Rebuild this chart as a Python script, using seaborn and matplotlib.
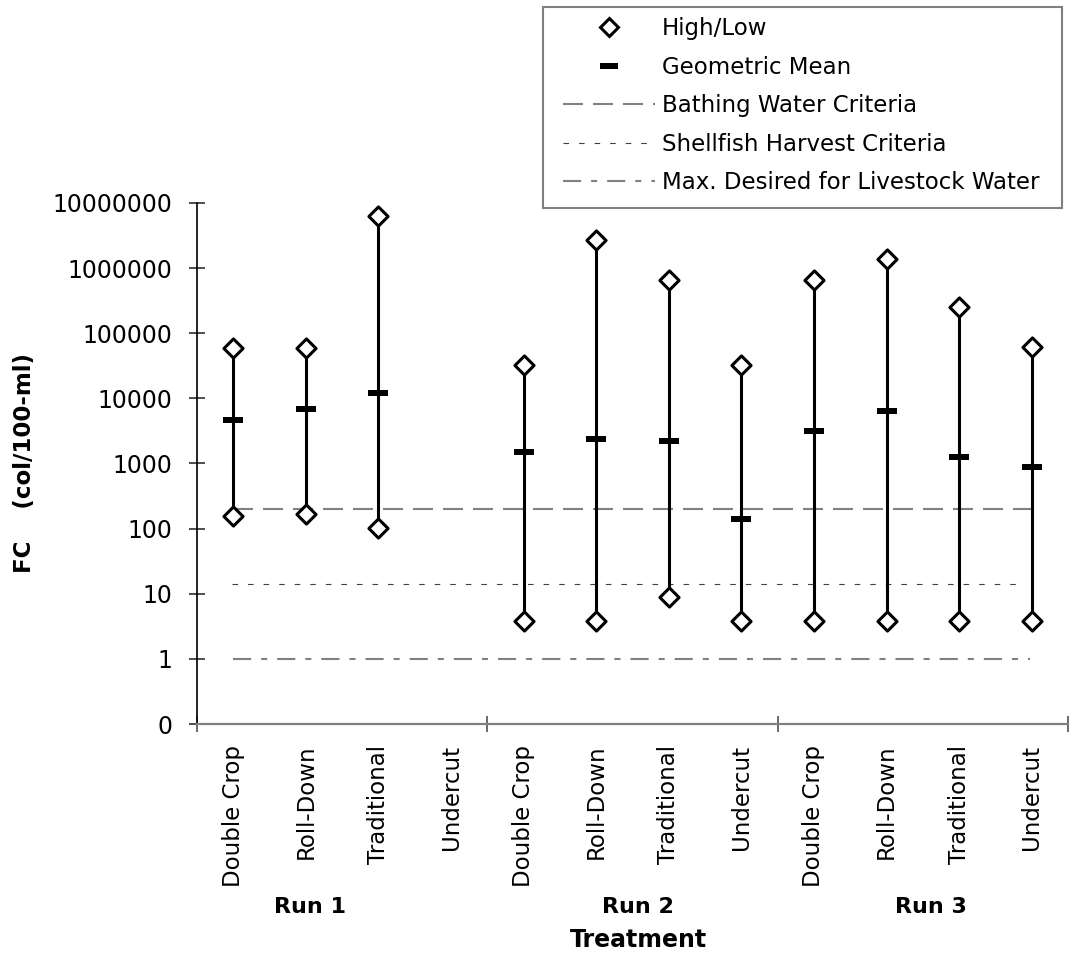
import numpy as np
import pandas as pd
import matplotlib
matplotlib.use("Agg")
import matplotlib.pyplot as plt
from matplotlib.lines import Line2D
from matplotlib.patches import Rectangle
from matplotlib.ticker import NullLocator
import seaborn as sns

# ---------------- data ----------------
runs = ["Run 1", "Run 2", "Run 3"]
treatments = ["Double Crop", "Roll-Down", "Traditional", "Undercut"]
# per run, per treatment (NaN = no data)
high_vals = [60000, 60000, 6300000, np.nan,
             32000, 2700000, 650000, 32000,
             650000, 1400000, 250000, 62000]
low_vals = [155, 170, 103, np.nan,
            3.8, 3.8, 9.0, 3.8,
            3.8, 3.8, 3.8, 3.8]
mean_vals = [4700, 6800, 12200, np.nan,
             1500, 2400, 2200, 140,
             3200, 6300, 1270, 870]
bathing = 200
shellfish = 14
livestock = 1
y_ticks = [0.1, 1, 10, 100, 1000, 10000, 100000, 1000000, 10000000]
y_tick_labels = ["0", "1", "10", "100", "1000", "10000", "100000",
                 "1000000", "10000000"]

cat_labels = treatments * len(runs)
pos = np.arange(len(cat_labels))
df = pd.DataFrame({"x": pos, "high": high_vals, "low": low_vals,
                   "mean": mean_vals})
hl = pd.concat([df[["x", "high"]].rename(columns={"high": "v"}),
                df[["x", "low"]].rename(columns={"low": "v"})]).dropna()

# ---------------- style ----------------
sns.set_style("white")
plt.rcParams["font.family"] = ["DejaVu Sans"]
plt.rcParams["font.size"] = 16
plt.rcParams["text.color"] = "black"
plt.rcParams["axes.labelcolor"] = "black"
plt.rcParams["xtick.color"] = "black"
plt.rcParams["ytick.color"] = "black"

FS = 16.5
fig = plt.figure(figsize=(10.89, 9.55), dpi=100)
ax = fig.add_axes([197 / 1089, 1 - 724 / 955, (1068 - 197) / 1089,
                   (724 - 203) / 955])

gray = "#808080"
bath_ls = (0, (9.6, 4.8))
shell_ls = (0, (5, 9))
live_ls = (0, (8.7, 4.8, 2.9, 4.8))
# reference lines
x0, x1 = pos[0], pos[-1]
ax.hlines(bathing, x0, x1, colors=gray, lw=1.5, linestyles=bath_ls, zorder=1)
ax.hlines(shellfish, x0 - 0.02, x1 - 0.1, colors="#404040", lw=0.8,
          linestyles=shell_ls, zorder=1)
ax.hlines(livestock, x0, x1 - 0.02, colors=gray, lw=1.5, linestyles=live_ls,
          zorder=1)

# range lines
d = df.dropna()
ax.vlines(d["x"], d["low"], d["high"], colors="black", lw=2.2, zorder=2)

# high/low diamonds
sns.scatterplot(data=hl, x="x", y="v", ax=ax, marker="D", s=95,
                facecolor="white", edgecolor="black", linewidth=2.2,
                zorder=4, legend=False)
# geometric mean bars
bar = [(-1, -0.28), (1, -0.28), (1, 0.28), (-1, 0.28), (-1, -0.28)]
sns.scatterplot(data=d, x="x", y="mean", ax=ax, marker=bar, s=190,
                color="black", linewidth=0, zorder=5, legend=False)

# axes
ax.set_yscale("log")
ax.set_ylim(0.1, 1e7)
ax.set_xlim(-0.5, len(pos) - 0.5)
ax.set_yticks(y_ticks)
ax.set_yticklabels(y_tick_labels)
ax.yaxis.set_minor_locator(NullLocator())
ax.tick_params(axis="y", which="major", direction="inout", length=11,
               width=1.2, color="#303030", labelcolor="black", pad=12,
               labelsize=17, left=True)
ax.set_xticks([-0.5, 3.5, 7.5, 11.5])
ax.set_xticklabels([])
ax.set_xticks(pos, labels=cat_labels, minor=True)
ax.tick_params(axis="x", which="major", direction="inout", length=11,
               width=1.2, color="#505050", bottom=True)
ax.tick_params(axis="x", which="minor", length=0, pad=15, labelsize=FS,
               labelcolor="black", labelrotation=90)
ax.set_xlabel("")
ax.set_ylabel("")
for s in ["top", "right"]:
    ax.spines[s].set_visible(False)
ax.spines["left"].set_color("black")
ax.spines["left"].set_linewidth(1.2)
ax.spines["bottom"].set_color(gray)
ax.spines["bottom"].set_linewidth(1.6)

# group labels
trans = ax.get_xaxis_transform()
run_x = [1.06, 5.58, 9.61]
for rx, r in zip(run_x, runs):
    ax.text(rx, (724 - 907) / 521, r, transform=trans, ha="center",
            va="center", fontsize=16, fontweight="bold", color="black")
ax.text(5.58, (724 - 940) / 521, "Treatment", transform=trans,
        ha="center", va="center", fontsize=17, fontweight="bold",
        color="black")
fig.text(25 / 1089, 1 - 463 / 955, "FC    (col/100-ml)", rotation=90,
         ha="center", va="center", fontsize=16.5, fontweight="bold",
         color="black")

# legend
handles = [
    Line2D([], [], ls="none", marker="D", ms=9.5, mfc="white", mec="black",
           mew=2.2),
    Line2D([], [], ls="none", marker=bar, ms=13.5, color="black", mew=0),
    Line2D([], [], color=gray, lw=1.5, ls=bath_ls),
    Line2D([], [], color="#404040", lw=0.8, ls=shell_ls),
    Line2D([], [], color=gray, lw=1.5, ls=live_ls),
]
labels = ["High/Low", "Geometric Mean", "Bathing Water Criteria",
          "Shellfish Harvest Criteria", "Max. Desired for Livestock Water"]
leg = fig.legend(handles, labels, loc="upper left",
                 bbox_to_anchor=(563 / 1089, 1 - 17 / 955),
                 borderaxespad=0, borderpad=0, fontsize=FS,
                 handlelength=4.0, handletextpad=0.3, labelspacing=0.68,
                 frameon=False, labelcolor="black")
fig.add_artist(Rectangle((543 / 1089, 1 - 208 / 955), (1062 - 543) / 1089,
                         201 / 955, transform=fig.transFigure, fill=False,
                         edgecolor=gray, lw=1.5))

fig.savefig("out.png", dpi=100, facecolor="white")
